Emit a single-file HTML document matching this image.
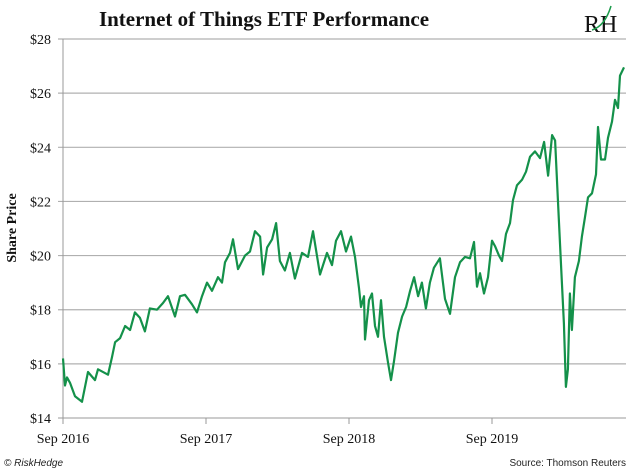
<!DOCTYPE html>
<html><head><meta charset="utf-8"><style>
body{margin:0;background:#fff;width:630px;height:470px;overflow:hidden;position:relative}
svg{position:absolute;left:0;top:0}
</style></head><body>
<svg width="630" height="470" xmlns="http://www.w3.org/2000/svg">
<text x="264" y="26" text-anchor="middle" font-family="Liberation Serif, serif" font-weight="bold" font-size="21" fill="#111">Internet of Things ETF Performance</text>
<g>
<text x="584" y="32" font-family="Liberation Serif, serif" font-size="24" fill="#111">RH</text>
<path d="M592 30 Q605 26 611 6" stroke="#1a9a4a" stroke-width="1.5" fill="none"/>
</g>
<text transform="translate(16,228) rotate(-90)" text-anchor="middle" font-family="Liberation Serif, serif" font-weight="bold" font-size="14" fill="#111">Share Price</text>
<g id="grid"></g><g id="yticks"></g><g id="xticks"></g>
<line x1="63" y1="39" x2="63" y2="420" stroke="#999" stroke-width="1"/>
<path id="line" fill="none" stroke="#14914a" stroke-width="2.2" stroke-linejoin="round"/>
<text x="4" y="466" font-family="Liberation Sans, sans-serif" font-style="italic" font-size="10" fill="#222">© RiskHedge</text>
<text x="626" y="466" text-anchor="end" font-family="Liberation Sans, sans-serif" font-size="10" fill="#222">Source: Thomson Reuters</text>
</svg>
<script>
const yTickValues=[14,16,18,20,22,24,26,28];
const xTickLabels=["Sep 2016","Sep 2017","Sep 2018","Sep 2019"];
const xTickYears=[0,1,2,3];
const years=[0,.014,.028,.049,.084,.133,.175,.224,.245,.315,.343,.364,.399,.434,.469,.503,.538,.573,.608,.657,.699,.734,.783,.818,.853,.902,.937,.972,1.007,1.042,1.084,1.112,1.133,1.168,1.189,1.224,1.273,1.308,1.343,1.378,1.399,1.427,1.462,1.490,1.517,1.552,1.587,1.622,1.671,1.713,1.748,1.797,1.846,1.881,1.909,1.944,1.979,2.014,2.042,2.070,2.084,2.105,2.112,2.140,2.161,2.182,2.203,2.224,2.245,2.273,2.294,2.315,2.343,2.371,2.399,2.427,2.455,2.483,2.510,2.538,2.566,2.594,2.636,2.671,2.706,2.741,2.776,2.811,2.846,2.874,2.895,2.916,2.944,2.972,3.000,3.021,3.049,3.070,3.098,3.126,3.147,3.175,3.210,3.238,3.266,3.301,3.336,3.364,3.392,3.420,3.441,3.462,3.483,3.503,3.517,3.531,3.545,3.559,3.580,3.608,3.629,3.650,3.671,3.699,3.727,3.741,3.762,3.790,3.811,3.839,3.860,3.881,3.895,3.923];
const prices=[16.2,15.2,15.5,15.3,14.8,14.6,15.7,15.4,15.8,15.6,16.25,16.8,16.95,17.4,17.25,17.9,17.7,17.2,18.05,18.0,18.25,18.5,17.75,18.5,18.55,18.2,17.9,18.5,19.0,18.7,19.2,19.0,19.75,20.1,20.6,19.5,20.0,20.15,20.9,20.7,19.3,20.3,20.6,21.2,19.8,19.45,20.1,19.15,20.1,19.95,20.9,19.3,20.1,19.65,20.55,20.9,20.15,20.7,19.95,18.8,18.1,18.5,16.9,18.35,18.6,17.4,17.0,18.35,17.0,16.05,15.4,16.1,17.15,17.75,18.1,18.7,19.2,18.5,19.0,18.05,19.0,19.55,19.9,18.4,17.85,19.2,19.75,19.95,19.9,20.5,18.85,19.35,18.6,19.2,20.55,20.35,20.0,19.8,20.8,21.2,22.05,22.6,22.8,23.1,23.65,23.85,23.6,24.2,22.95,24.45,24.25,21.9,19.6,17.5,15.15,15.8,18.6,17.25,19.2,19.8,20.7,21.4,22.15,22.3,23.0,24.75,23.55,23.55,24.35,24.95,25.75,25.45,26.65,26.95];
const X0=63,PXY=143,Y0=418,PXV=27.07;
const xs=t=>X0+t*PXY, ys=v=>Y0-(v-14)*PXV;
const NS="http://www.w3.org/2000/svg";
const grid=document.getElementById('grid'),yt=document.getElementById('yticks'),xt=document.getElementById('xticks');
yTickValues.forEach(v=>{
 const l=document.createElementNS(NS,'line');
 l.setAttribute('x1',58);l.setAttribute('x2',626);l.setAttribute('y1',ys(v));l.setAttribute('y2',ys(v));
 l.setAttribute('stroke',v===14?'#999':'#b0b0b0');l.setAttribute('stroke-width',v===14?1:1.2);
 
 
 grid.appendChild(l);
 const t=document.createElementNS(NS,'text');
 t.setAttribute('x',51);t.setAttribute('y',ys(v)+5);t.setAttribute('text-anchor','end');
 t.setAttribute('font-family','Liberation Serif, serif');t.setAttribute('font-size','14');t.setAttribute('fill','#111');
 t.textContent='$'+v;
 
 
 yt.appendChild(t);
});
xTickLabels.forEach((s,i)=>{
 const tk=document.createElementNS(NS,'line');
 tk.setAttribute('x1',xs(xTickYears[i]));tk.setAttribute('x2',xs(xTickYears[i]));
 tk.setAttribute('y1',418);tk.setAttribute('y2',424);tk.setAttribute('stroke','#999');
 
 
 xt.appendChild(tk);
 const t=document.createElementNS(NS,'text');
 t.setAttribute('x',xs(xTickYears[i]));t.setAttribute('y',443);t.setAttribute('text-anchor','middle');
 t.setAttribute('font-family','Liberation Serif, serif');t.setAttribute('font-size','14');t.setAttribute('fill','#111');
 t.textContent=s;
 
 
 xt.appendChild(t);
});
document.getElementById('line').setAttribute('d',years.map((t,i)=>(i?'L':'M')+xs(t).toFixed(1)+' '+ys(prices[i]).toFixed(1)).join(''));
</script>
</body></html>
